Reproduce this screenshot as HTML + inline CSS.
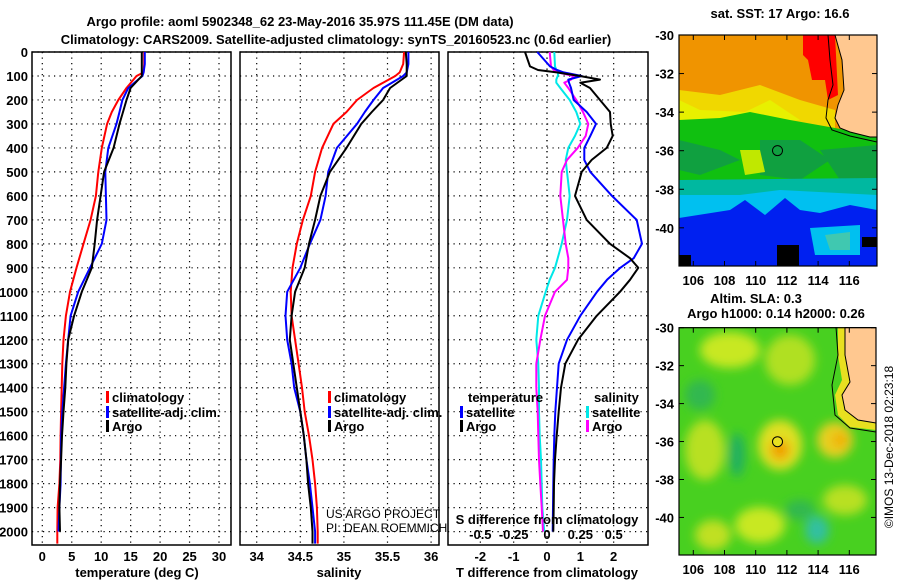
<!DOCTYPE html>
<html><head><meta charset="utf-8"><style>
body{margin:0;background:#fff;width:900px;height:580px;overflow:hidden}
svg{display:block;font-family:"Liberation Sans",Arial,sans-serif}
.b{font-weight:bold;font-size:13px}
</style></head><body>
<svg id="s" width="900" height="580" viewBox="0 0 900 580">
<text x="300" y="26" text-anchor="middle" class="b" font-size="14">Argo profile: aoml 5902348_62 23-May-2016 35.97S 111.45E (DM data)</text>
<text x="336" y="44" text-anchor="middle" class="b" font-size="14">Climatology: CARS2009. Satellite-adjusted climatology: synTS_20160523.nc (0.6d earlier)</text>
<g id="maps"></g>
<g id="plots"></g>
</svg>
<script>
// ---------- data ----------
const depths=[0,50,85,100,150,200,250,300,400,500,600,700,800,900,1000,1100,1200,1300,1400,1500,1600,1700,1800,1900,2000,2050];
const tempClim=[17.3,17.3,17.2,16.0,14.3,12.9,11.8,11.0,10.1,9.5,9.1,8.2,7.0,5.8,4.7,4.0,3.6,3.4,3.3,3.2,3.1,3.05,2.9,2.6,2.55,2.55];
const tempSat=[17.4,17.4,17.2,17.0,14.6,13.6,13.1,12.6,11.2,10.7,10.8,10.9,10.1,8.1,6.1,4.8,4.4,4.0,3.7,3.4,3.2,3.15,3.1,2.9,2.75,2.75];
const tempArgo=[16.9,16.9,16.9,16.9,15.0,14.3,13.7,13.1,12.1,10.5,9.9,9.3,8.9,8.4,6.7,5.4,4.4,4.1,3.9,3.6,3.35,3.2,3.0,2.9,3.0,3.0];
const salClim=[35.69,35.68,35.64,35.59,35.34,35.15,35.03,34.88,34.75,34.67,34.62,34.53,34.46,34.41,34.39,34.40,34.44,34.48,34.52,34.55,34.60,34.64,34.67,34.69,34.70,34.70];
const salSat=[35.74,35.74,35.72,35.68,35.45,35.34,35.24,35.15,34.92,34.82,34.79,34.73,34.61,34.50,34.35,34.33,34.35,34.40,34.43,34.50,34.54,34.57,34.61,34.64,34.67,34.67];
const salArgo=[35.71,35.72,35.72,35.72,35.53,35.45,35.32,35.20,35.03,34.84,34.73,34.67,34.60,34.55,34.44,34.40,34.38,34.42,34.46,34.50,34.54,34.57,34.59,34.62,34.64,34.64];
const diffDepths=[0,60,75,85,100,115,128,150,200,250,300,350,400,450,500,600,700,800,860,900,950,1000,1100,1200,1300,1400,1500,1600,1700,1800,1900,2000];
const tDiffArgo=[-0.66,-0.51,-0.27,0.29,0.99,1.59,1.0,1.29,1.59,1.89,1.91,1.97,1.79,1.34,1.04,0.84,1.19,1.89,2.49,2.74,2.49,2.19,1.49,0.93,0.55,0.42,0.35,0.29,0.24,0.21,0.20,0.19];
const tDiffSat=[-0.29,0.09,0.3,0.5,1.04,0.64,0.66,0.72,0.8,1.19,1.47,1.3,1.12,1.12,1.3,1.95,2.69,2.85,2.6,2.2,1.8,1.5,1.0,0.6,0.35,0.3,0.25,0.22,0.2,0.19,0.18,0.17];
const sDiffArgo=[0.02,0.03,0.05,0.08,0.2,0.18,0.13,0.16,0.22,0.27,0.31,0.29,0.23,0.15,0.11,0.10,0.12,0.14,0.16,0.16,0.15,0.06,-0.015,-0.05,-0.08,-0.08,-0.07,-0.065,-0.06,-0.05,-0.04,-0.03];
const sDiffSat=[0.055,0.06,0.07,0.085,0.08,0.07,0.07,0.1,0.17,0.22,0.25,0.21,0.16,0.14,0.15,0.17,0.15,0.11,0.08,0.06,0.02,-0.01,-0.065,-0.08,-0.065,-0.06,-0.06,-0.055,-0.045,-0.04,-0.035,-0.02];
const depthTicks=[0,100,200,300,400,500,600,700,800,900,1000,1100,1200,1300,1400,1500,1600,1700,1800,1900,2000];
const tempTicks=[0,5,10,15,20,25,30];
const salTicks=[34,34.5,35,35.5,36];
const tDiffTicks=[-2,-1,0,1,2];
const sDiffTicks=[-0.5,-0.25,0,0.25,0.5];
const latTicks=[-30,-32,-34,-36,-38,-40];
const lonTicks=[106,108,110,112,114,116];

const NS='http://www.w3.org/2000/svg';
const plots=document.getElementById('plots');
function mk(tag,attrs,parent,txt){const e=document.createElementNS(NS,tag);for(const k in attrs)e.setAttribute(k,attrs[k]);if(txt!==undefined)e.textContent=txt;(parent||plots).appendChild(e);return e;}
const TOP=52,BOT=545;
const yD=d=>52+d*0.2398;
const xT=v=>42.3+v*5.89;
const xS=v=>256.7+(v-34)*87.2;
const xTd=v=>547+v*33.33;
const xSd=v=>547+v*133.3;

function panel(x0,x1,ticks,fx,name){
  const g=mk('g',{});
  
  
  depthTicks.forEach(d=>{const l=mk('line',{x1:x0,x2:x1,y1:yD(d),y2:yD(d),stroke:'#000','stroke-dasharray':'1.2,4.3','stroke-width':1.2},g);
    });
  ticks.forEach(t=>{const l=mk('line',{x1:fx(t),x2:fx(t),y1:TOP,y2:BOT,stroke:'#000','stroke-dasharray':'1.2,4.3','stroke-width':1.2},g);
    });
  const r=mk('rect',{x:x0,y:TOP,width:x1-x0,height:BOT-TOP,fill:'none',stroke:'#000','stroke-width':1.5},g);
  
  return g;
}
function line(ds,vals,fx,color,name,w){
  let p='';vals.forEach((v,i)=>{p+=(i?'L':'M')+fx(v).toFixed(1)+','+yD(ds[i]).toFixed(1);});
  const e=mk('path',{d:p,fill:'none',stroke:color,'stroke-width':w||2,'stroke-linejoin':'round'});
  
}
function txt(x,y,s,anchor,name,cls,extra){const e=mk('text',Object.assign({x:x,y:y,'text-anchor':anchor||'start',class:cls===undefined?'b':cls},extra||{}),null,s);
  return e;}
function legend(x,y,color,label,name){
  const r=mk('rect',{x:x,y:y-11,width:3,height:12,fill:color});
  
  txt(x+6,y,label,'start',name);
}

// panel 1
panel(32,231,tempTicks,xT,'temperature-panel');
depthTicks.forEach(d=>txt(28,yD(d)+5,String(d),'end','depth-tick-label'));
tempTicks.forEach(t=>txt(xT(t),561,String(t),'middle','temperature-tick-label'));
txt(137,577,'temperature (deg C)','middle','temperature-axis-title');
line(depths,tempClim,xT,'#ff0000','temperature-climatology-line');
line(depths.slice(0,25),tempSat.slice(0,25),xT,'#0000ff','temperature-satellite-line');
line(depths.slice(0,25),tempArgo.slice(0,25),xT,'#000','temperature-argo-line');
legend(106,402,'#ff0000','climatology','legend-climatology');
legend(106,417,'#0000ff','satellite-adj. clim.','legend-satellite');
legend(106,431,'#000','Argo','legend-argo');

// panel 2
panel(240,439,salTicks,xS,'salinity-panel');
salTicks.forEach(t=>txt(xS(t),561,String(t),'middle','salinity-tick-label'));
txt(339,577,'salinity','middle','salinity-axis-title');
line(depths,salClim,xS,'#ff0000','salinity-climatology-line');
line(depths,salSat,xS,'#0000ff','salinity-satellite-line');
line(depths,salArgo,xS,'#000','salinity-argo-line');
legend(328,402,'#ff0000','climatology','legend-climatology-2');
legend(328,417,'#0000ff','satellite-adj. clim.','legend-satellite-2');
legend(328,431,'#000','Argo','legend-argo-2');
txt(326,518,'US ARGO PROJECT','start','credit-project','',{'font-size':'12'});
txt(326,532,'PI: DEAN ROEMMICH','start','credit-pi','',{'font-size':'12'});

// panel 3
panel(448,648,tDiffTicks,xTd,'difference-panel');
{const l=mk('line',{x1:547,x2:547,y1:TOP,y2:BOT,stroke:'#000','stroke-dasharray':'1.2,4.3','stroke-width':1.2});}
line(diffDepths,sDiffSat,xSd,'#00e8e8','salinity-diff-satellite-line');
line(diffDepths,sDiffArgo,xSd,'#ff00ff','salinity-diff-argo-line');
line(diffDepths,tDiffSat,xTd,'#0000ff','temperature-diff-satellite-line');
line(diffDepths,tDiffArgo,xTd,'#000','temperature-diff-argo-line');
txt(468,402,'temperature','start','legend-temperature-heading');
legend(460,417,'#0000ff','satellite','legend-t-satellite');
legend(460,431,'#000','Argo','legend-t-argo');
txt(594,402,'salinity','start','legend-salinity-heading');
legend(586,417,'#00e8e8','satellite','legend-s-satellite');
legend(586,431,'#ff00ff','Argo','legend-s-argo');
txt(547,524,'S difference from climatology','middle','salinity-diff-axis-title');
sDiffTicks.forEach(t=>txt(xSd(t),539,(t===0?'0':String(t)),'middle','salinity-diff-tick-label'));
tDiffTicks.forEach(t=>txt(xTd(t),561,String(t),'middle','temperature-diff-tick-label'));
txt(547,577,'T difference from climatology','middle','temperature-diff-axis-title');

// ---------- maps ----------
const maps=document.getElementById('maps');
function mapFrame(x0,y0,x1,y1,latTop,name){
  const lonX=l=>693.3+(l-106)*15.6;
  const latY=l=>y0+(latTop-l)*((y1-y0)/11.98);
  latTicks.forEach(l=>{const y=latY(l);
    mk('line',{x1:x0,x2:x0+5,y1:y,y2:y,stroke:'#000'},maps);mk('line',{x1:x1,x2:x1-5,y1:y,y2:y,stroke:'#000'},maps);
    const t=mk('text',{x:x0-5,y:y+5,'text-anchor':'end',class:'b'},maps,String(l));
    });
  lonTicks.forEach(l=>{const x=lonX(l);
    mk('line',{x1:x,x2:x,y1:y0,y2:y0+5,stroke:'#000'},maps);mk('line',{x1:x,x2:x,y1:y1,y2:y1-5,stroke:'#000'},maps);
    const t=mk('text',{x:x,y:y1+19,'text-anchor':'middle',class:'b'},maps,String(l));
    });
  const r=mk('rect',{x:x0,y:y0,width:x1-x0,height:y1-y0,fill:'none',stroke:'#000','stroke-width':1.2},maps);
  
}
</script>
<script>
// draw map fills (approximate imagery) before frames
(function(){
const m=document.getElementById('maps');
m.insertAdjacentHTML('afterbegin',`
<defs><clipPath id="c1"><rect x="679" y="35" width="198" height="231"/></clipPath>
<clipPath id="c2"><rect x="679" y="327" width="197" height="228"/></clipPath>
<filter id="bl"><feGaussianBlur stdDeviation="5"/></filter></defs>
<g clip-path="url(#c1)">
<rect x="679" y="35" width="198" height="231" fill="#f09400"/>
<path d="M679,90 L720,95 L760,85 L800,100 L835,110 L835,135 L679,130Z" fill="#f0d800"/>
<path d="M679,100 L700,110 L745,112 L770,100 L800,120 L679,125Z" fill="#e8f000"/>
<path d="M803,35 L835,35 L838,95 L828,100 L825,80 L812,80 L808,60 L803,55Z" fill="#ff0000"/>
<path d="M679,120 L720,118 L750,112 L790,120 L835,128 L877,136 L877,190 L679,190Z" fill="#10c010"/>
<path d="M679,140 L720,150 L740,160 L700,175 L679,170Z" fill="#10a040"/>
<path d="M760,140 L800,140 L830,160 L800,180 L760,175Z" fill="#10a040"/>
<path d="M820,150 L877,145 L877,185 L840,180Z" fill="#10a040"/>
<path d="M740,150 L760,150 L765,172 L745,175Z" fill="#c0e800"/>
<path d="M679,180 L877,178 L877,205 L679,208Z" fill="#00b8a0"/>
<path d="M679,195 L740,195 L780,190 L877,195 L877,215 L679,220Z" fill="#00c0f0"/>
<path d="M679,218 L730,210 L745,200 L765,215 L785,198 L800,210 L820,213 L850,205 L877,210 L877,266 L679,266Z" fill="#0020f0"/>
<path d="M810,228 L860,225 L860,255 L815,255Z" fill="#00c0f0"/>
<path d="M825,235 L850,232 L850,250 L830,250Z" fill="#40c8b0"/>
<rect x="679" y="255" width="12" height="11" fill="#000"/>
<rect x="777" y="245" width="22" height="21" fill="#000"/>
<rect x="862" y="237" width="15" height="10" fill="#000"/>
<path d="M835,35 L877,35 L877,137 L870,137 L850,132 L840,128 L835,118 L838,105 L844,90 L842,60Z" fill="#ffc890" stroke="#000" stroke-width="1"/>
<path d="M828,35 L830,60 L833,85 L828,100 L826,118 L832,130 L850,136 L877,142" fill="none" stroke="#000" stroke-width="1"/>
<circle cx="777.5" cy="150.6" r="5" fill="none" stroke="#000" stroke-width="1"/>
</g>
<g clip-path="url(#c2)">
<rect x="679" y="327" width="197" height="228" fill="#48d020"/>
<g filter="url(#bl)">
<ellipse cx="730" cy="350" rx="30" ry="18" fill="#c8e820"/>
<ellipse cx="790" cy="360" rx="25" ry="25" fill="#b0e020"/>
<ellipse cx="780" cy="445" rx="22" ry="25" fill="#e0e020"/>
<ellipse cx="780" cy="450" rx="10" ry="10" fill="#f0a000"/>
<ellipse cx="835" cy="440" rx="18" ry="18" fill="#e8d020"/>
<ellipse cx="840" cy="440" rx="8" ry="8" fill="#f0b000"/>
<ellipse cx="705" cy="450" rx="20" ry="30" fill="#b8e020"/>
<ellipse cx="737" cy="455" rx="8" ry="22" fill="#20b060"/>
<ellipse cx="760" cy="525" rx="25" ry="18" fill="#c8e820"/>
<ellipse cx="713" cy="535" rx="18" ry="15" fill="#c0e020"/>
<ellipse cx="817" cy="530" rx="12" ry="14" fill="#30c0a0"/>
<ellipse cx="845" cy="500" rx="22" ry="15" fill="#b8e020"/>
<ellipse cx="700" cy="395" rx="15" ry="15" fill="#30b850"/>
<ellipse cx="800" cy="510" rx="15" ry="10" fill="#30b850"/>
</g>
<path d="M838,327 L876,327 L876,430 L850,427 L838,415 L835,395 L842,380 L838,355Z" fill="#e8e020"/>
<path d="M845,327 L876,327 L876,423 L858,420 L845,410 L842,395 L850,382 L845,355Z" fill="#ffc890" stroke="#000" stroke-width="1"/>
<path d="M836,327 L838,355 L832,385 L835,415 L850,428 L876,432" fill="none" stroke="#000" stroke-width="1"/>
<circle cx="777.5" cy="441.7" r="5" fill="#e8e020" stroke="#000" stroke-width="1"/>
</g>
<text x="780" y="18" text-anchor="middle" class="b">sat. SST: 17 Argo: 16.6</text>
<text x="756" y="303" text-anchor="middle" class="b">Altim. SLA: 0.3</text>
<text x="776" y="318" text-anchor="middle" class="b">Argo h1000: 0.14 h2000: 0.26</text>
<text x="0" y="0" transform="translate(893,447) rotate(-90)" text-anchor="middle" font-size="12">©IMOS 13-Dec-2018 02:23:18</text>
`);
mapFrame(679,35,877,266,-30,'sst-map-frame');
mapFrame(679,327.7,876,555,-30,'sla-map-frame');
})();
</script>
</body></html>
